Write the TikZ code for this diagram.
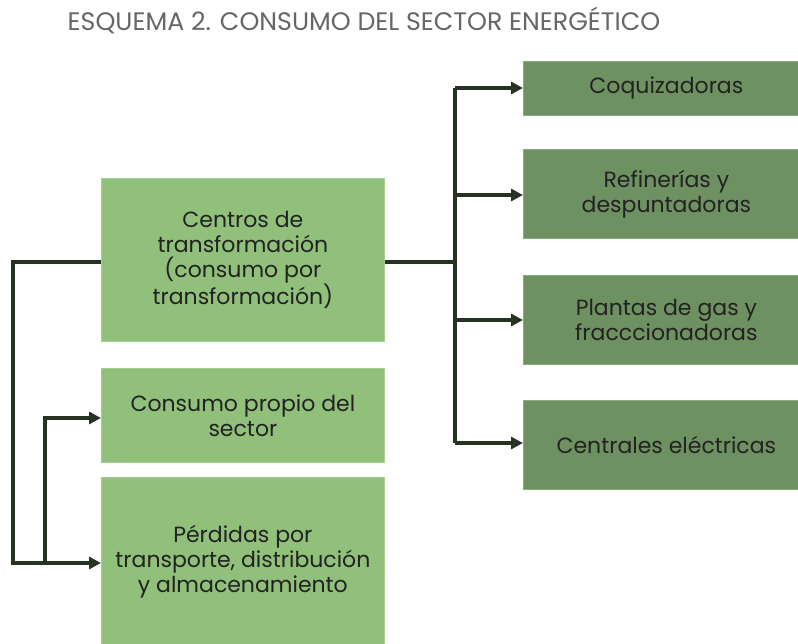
\documentclass[tikz,border=0pt]{standalone}
\usepackage{fontspec}
\setmainfont{Poppins}
\usetikzlibrary{arrows.meta}
\definecolor{lightg}{HTML}{90C07A}
\definecolor{lightgb}{HTML}{A4CF90}
\definecolor{darkg}{HTML}{6D9160}
\definecolor{darkgb}{HTML}{88AB7A}
\definecolor{linec}{HTML}{263222}
\definecolor{titlec}{HTML}{666666}
\definecolor{textc}{HTML}{222222}
\tikzset{
  lbox/.style={draw=lightgb, line width=0.8pt, fill=lightg, anchor=north west, inner sep=0pt,
    align=center, text=textc, font=\fontsize{22}{25}\selectfont},
  dbox/.style={draw=darkgb, line width=0.8pt, fill=darkg, anchor=north west, inner sep=0pt,
    align=center, text=textc, font=\fontsize{22}{25}\selectfont},
  conn/.style={draw=linec, line width=3.6pt},
  arr/.style={conn, -{Triangle[length=12pt,width=12pt]}, shorten >=0pt},
}
\begin{document}
\begin{tikzpicture}[x=1pt,y=-1pt]
\useasboundingbox (0,0) rectangle (798,644);
\clip (0,0) rectangle (798,644);
\node[font=\fontsize{25.3}{28}\selectfont, text=titlec, anchor=center] (title) at (364,20) {ESQUEMA 2. CONSUMO DEL SECTOR ENERGÉTICO};
% left boxes
\node[lbox, minimum width=283pt, minimum height=163pt] (centros) at (101,178) {Centros de\\transformación\\(consumo por\\transformación)};
\node[lbox, minimum width=283pt, minimum height=94pt] (propio) at (101,368) {Consumo propio del\\sector};
\node[lbox, minimum width=283pt, minimum height=168pt] (perdidas) at (101,477) {Pérdidas por\\transporte, distribución\\y almacenamiento};
% right boxes
\node[dbox, minimum width=286pt, minimum height=54pt] (coq) at (523,61) {Coquizadoras};
\node[dbox, minimum width=286pt, minimum height=89pt] (ref) at (523,149) {Refinerías y\\despuntadoras};
\node[dbox, minimum width=286pt, minimum height=89pt] (pla) at (523,275) {Plantas de gas y\\fracccionadoras};
\node[dbox, minimum width=286pt, minimum height=89pt] (cen) at (523,400) {Centrales eléctricas};
% right connectors
\coordinate (rj) at (455,262);
\draw[conn] (centros.east |- rj) -- (rj);
\draw[conn] (455,88) -- (455,443);
\draw[arr] (455,88) -- (coq.west |- 0,88);
\draw[arr] (455,195) -- (ref.west |- 0,195);
\draw[arr] (455,320) -- (pla.west |- 0,320);
\draw[arr] (455,443) -- (cen.west |- 0,443);
% left connectors
\coordinate (lj) at (13,262);
\coordinate (lb) at (13,563);
\coordinate (mb) at (45,563);
\coordinate (mt) at (45,418);
\draw[arr, line join=miter] (centros.west |- lj) -- (lj) -- (lb) -- (perdidas.west |- lb);
\draw[arr, line join=miter] (mb) -- (mt) -- (propio.west |- mt);
\end{tikzpicture}
\end{document}
